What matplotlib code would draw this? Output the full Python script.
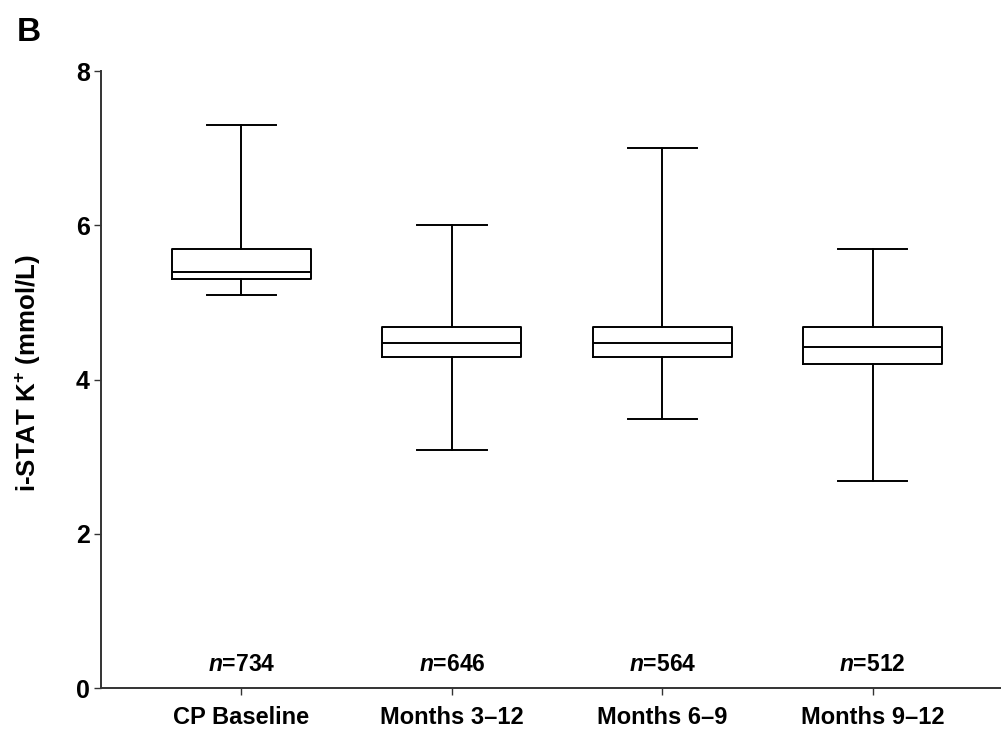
import matplotlib
matplotlib.use("Agg")
import matplotlib.pyplot as plt

plt.rcParams['font.family'] = 'Liberation Sans'
plt.rcParams['mathtext.fontset'] = 'custom'
plt.rcParams['mathtext.rm'] = 'Liberation Sans:bold'
plt.rcParams['mathtext.bf'] = 'Liberation Sans:bold'
plt.rcParams['mathtext.it'] = 'Liberation Sans:italic:bold'

groups = ["CP Baseline", "Months 3\u201312", "Months 6\u20139", "Months 9\u201312"]
n_counts = [734, 646, 564, 512]
whislo = [5.10, 3.09, 3.49, 2.69]
q1 = [5.31, 4.30, 4.30, 4.20]
med = [5.40, 4.47, 4.47, 4.43]
q3 = [5.69, 4.68, 4.68, 4.68]
whishi = [7.30, 6.00, 7.00, 5.70]

stats = []
for i in range(len(groups)):
    stats.append({"label": groups[i], "whislo": whislo[i], "q1": q1[i],
                  "med": med[i], "q3": q3[i], "whishi": whishi[i], "fliers": []})

fig = plt.figure(figsize=(10.01, 7.29), dpi=100)
ax = fig.add_axes([0.101, 0.0562, 0.899, 0.846])

lw = 1.4
ax.bxp(stats, positions=range(1, 5), widths=0.66, showfliers=False,
       boxprops=dict(color='black', linewidth=lw),
       medianprops=dict(color='black', linewidth=lw),
       whiskerprops=dict(color='black', linewidth=lw),
       capprops=dict(color='black', linewidth=lw),
       capwidths=0.33)

for i in range(len(groups)):
    ax.text(i + 1, 0.31, r'$n$=' + str(n_counts[i]), ha='center', va='center',
            fontsize=16.5, fontweight='bold')

ax.set_xlim(0.333, 4.61)
ax.set_ylim(0, 8)
ax.set_yticks([0, 2, 4, 6, 8])
ax.set_xticks(range(1, 5))
ax.set_xticklabels(groups)
for lab in ax.get_xticklabels() + ax.get_yticklabels():
    lab.set_fontweight('bold')
ax.tick_params(axis='x', labelsize=17, length=5, width=1, color='#333333', pad=8)
ax.tick_params(axis='y', labelsize=18, length=5, width=1, color='#333333', pad=3)

ax.spines['top'].set_visible(False)
ax.spines['right'].set_visible(False)
ax.spines['left'].set_color('#333333')
ax.spines['bottom'].set_color('#333333')
ax.spines['left'].set_linewidth(1.4)
ax.spines['bottom'].set_linewidth(1.4)

ax.set_ylabel(r'i-STAT K$^{+}$ (mmol/L)', fontsize=18.6, fontweight='bold',
              va='center')
ax.yaxis.set_label_coords(-0.0806, 0.511)

fig.text(0.017, 0.955, 'B', fontsize=24, fontweight='bold', ha='left', va='center')

fig.savefig('out.png', dpi=100)
